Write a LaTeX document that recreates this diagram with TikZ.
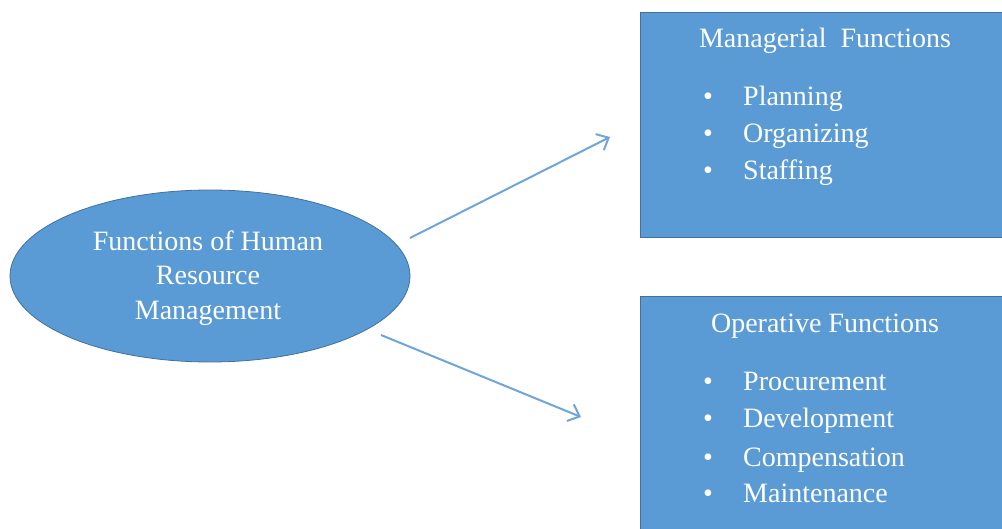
\documentclass[tikz,border=0pt]{standalone}
\usepackage{fontspec}
\setmainfont{Liberation Serif}
\usetikzlibrary{shapes.geometric,arrows.meta}
\definecolor{fillblue}{HTML}{5B9BD5}
\definecolor{edgeblue}{HTML}{41719C}
\definecolor{arrowblue}{HTML}{6FA6DA}
\begin{document}
\begin{tikzpicture}[x=1pt,y=-1pt,
  shapefill/.style={fill=fillblue,draw=edgeblue,line width=0.8pt},
  wtext/.style={text=white,font=\fontsize{28}{35}\selectfont,inner sep=0pt},
  item/.style={wtext,anchor=base west},
  dot/.style={wtext,anchor=base},
  title/.style={wtext,anchor=base},
  link/.style={draw=arrowblue,line width=2pt,-{Straight Barb[length=10pt,width=18pt,line width=2pt]}}]
\useasboundingbox (0,0) rectangle (1002,529);
\clip (0,0) rectangle (1002,529);

% central ellipse
\node[shapefill,ellipse,minimum width=400,minimum height=172,inner sep=0pt] (hrm) at (210,276) {};
\node[wtext,align=center,anchor=base] (hrmtext) at (208,320)
  {Functions of Human\\Resource\\Management};

% managerial functions box
\node[shapefill,rectangle,anchor=north west,minimum width=380,minimum height=225,inner sep=0pt] (mgr) at (640,12) {};
\node[title] (mgrt) at (825,48) {Managerial\ \ Functions};
\node[dot] (b1) at (708,106) {\textbullet};
\node[item] (m1) at (743,106) {Planning};
\node[dot] (b2) at (708,143) {\textbullet};
\node[item] (m2) at (743,143) {Organizing};
\node[dot] (b3) at (708,180) {\textbullet};
\node[item] (m3) at (743,180) {Staffing};

% operative functions box
\node[shapefill,rectangle,anchor=north west,minimum width=380,minimum height=260,inner sep=0pt] (op) at (640,296) {};
\node[title] (opt) at (825,333) {Operative Functions};
\node[dot] (c1) at (708,391) {\textbullet};
\node[item] (o1) at (743,391) {Procurement};
\node[dot] (c2) at (708,428) {\textbullet};
\node[item] (o2) at (743,428) {Development};
\node[dot] (c3) at (708,466) {\textbullet};
\node[item] (o3) at (743,466) {Compensation};
\node[dot] (c4) at (708,502) {\textbullet};
\node[item] (o4) at (743,502) {Maintenance};

% connectors
\coordinate (up0) at (410,238);
\coordinate (up1) at (610,137);
\coordinate (dn0) at (381,335);
\coordinate (dn1) at (581,417);
\draw[link] (up0) -- (up1);
\draw[link] (dn0) -- (dn1);
\end{tikzpicture}
\end{document}
